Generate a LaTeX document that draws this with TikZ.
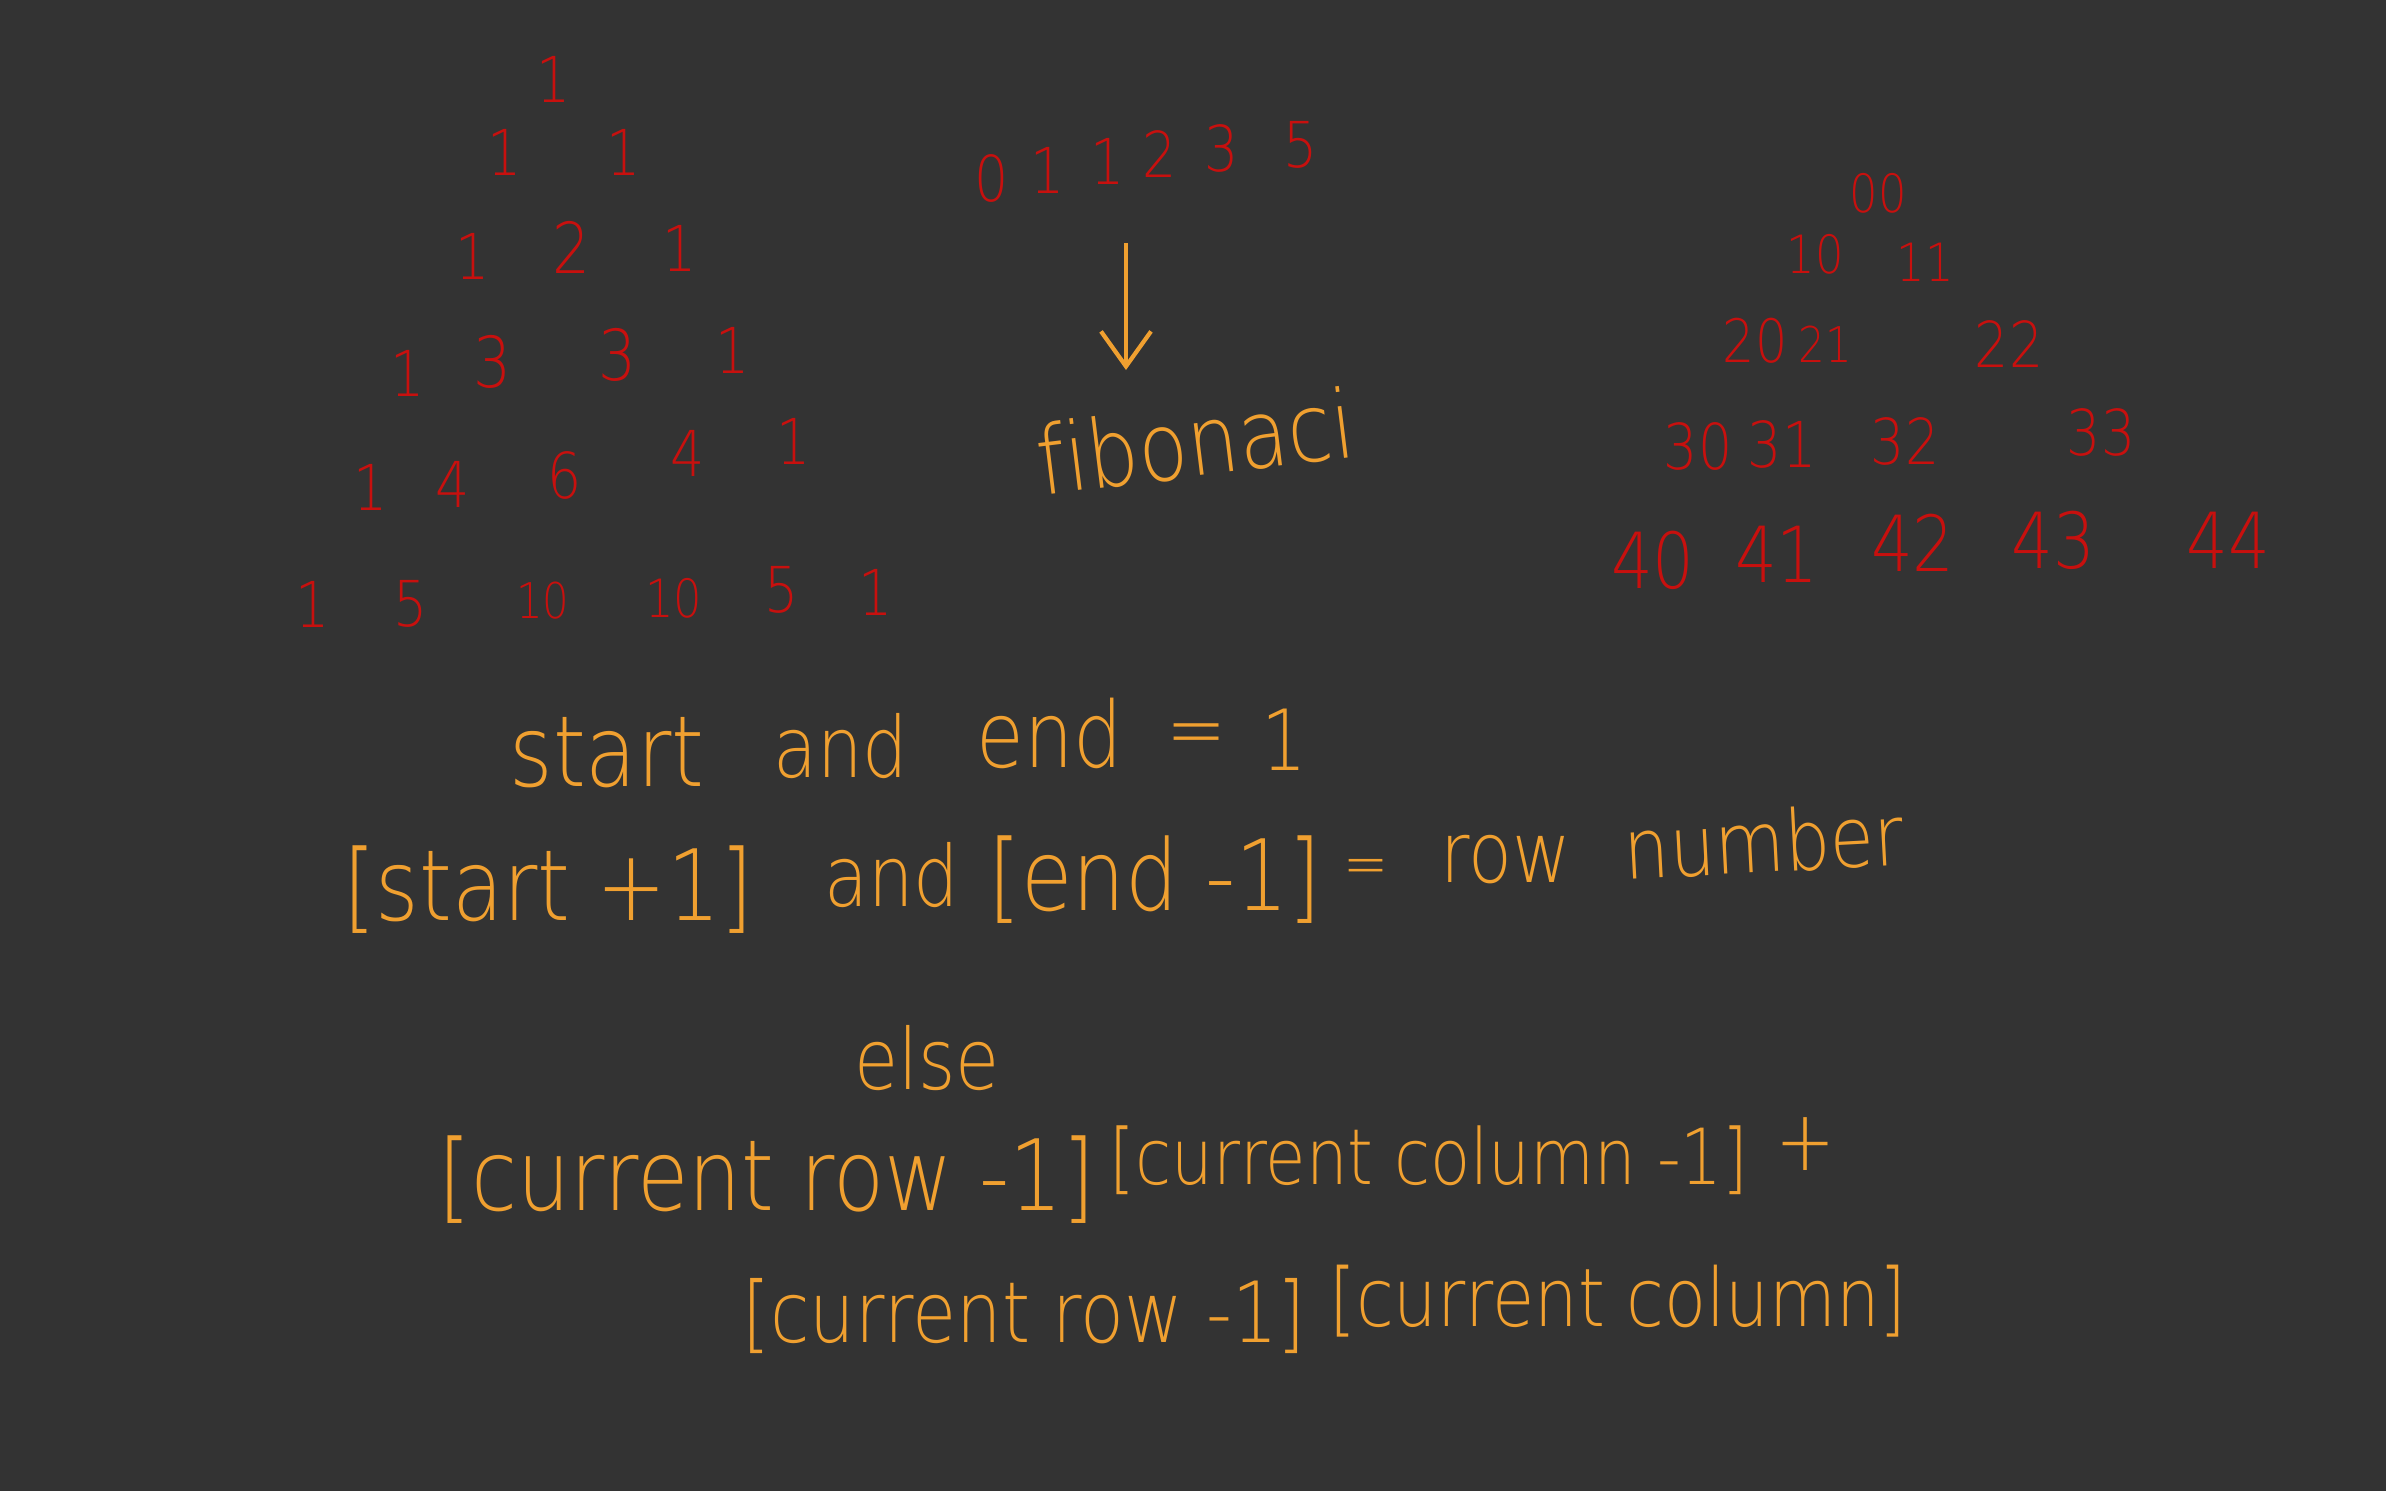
\documentclass[tikz,border=0pt]{standalone}
\usepackage{fontspec}
\newfontfamily\hand[FakeStretch=0.85,Ligatures=NoCommon]{DejaVu Sans ExtraLight}
\usetikzlibrary{arrows.meta}
\definecolor{bgc}{HTML}{333333}
\definecolor{redc}{HTML}{C8100E}
\definecolor{orc}{HTML}{F0A030}
\tikzset{
  rd/.style={text=redc,inner sep=0pt,font=\hand\fontsize{#1}{#1}\selectfont},
  rd/.default=18,
  og/.style={text=orc,inner sep=0pt,font=\hand\fontsize{#1}{#1}\selectfont},
  og/.default=24,
}
\begin{document}
\begin{tikzpicture}
\fill[bgc] (0,0) rectangle (23.86,-14.91);
\useasboundingbox (0,0) rectangle (23.86,-14.91);
% Pascal triangle
\node[rd] (p11) at (5.54,-0.79) {1};
\node[rd] (p21) at (5.05,-1.52) {1};
\node[rd] (p22) at (6.24,-1.52) {1};
\node[rd] (p31) at (4.73,-2.56) {1};
\node[rd=20] (p32) at (5.72,-2.47) {2};
\node[rd] (p33) at (6.80,-2.48) {1};
\node[rd] (p41) at (4.08,-3.73) {1};
\node[rd=20] (p42) at (4.93,-3.62) {3};
\node[rd=20] (p43) at (6.18,-3.55) {3};
\node[rd] (p44) at (7.33,-3.50) {1};
\node[rd] (p51) at (3.71,-4.87) {1};
\node[rd] (p52) at (4.53,-4.84) {4};
\node[rd] (p53) at (5.65,-4.75) {6};
\node[rd] (p54) at (6.88,-4.53) {4};
\node[rd] (p55) at (7.94,-4.41) {1};
\node[rd] (p61) at (3.13,-6.04) {1};
\node[rd] (p62) at (4.11,-6.04) {5};
\node[rd=14] (p63) at (5.43,-6.01) {10};
\node[rd=15] (p64) at (6.74,-5.98) {10};
\node[rd] (p65) at (7.82,-5.90) {5};
\node[rd] (p66) at (8.76,-5.92) {1};
% Fibonacci row
\node[rd] (f1) at (9.92,-1.78) {0};
\node[rd] (f2) at (10.48,-1.70) {1};
\node[rd] (f3) at (11.08,-1.61) {1};
\node[rd] (f4) at (11.60,-1.54) {2};
\node[rd] (f5) at (12.22,-1.48) {3};
\node[rd] (f6) at (13.01,-1.45) {5};
\coordinate (aS) at (11.26,-2.43);
\coordinate (aE) at (11.26,-3.70);
\draw[orc,line width=1.2pt,-{Straight Barb[length=3.5mm,width=5mm,line width=1.2pt]}] (aS) -- (aE);
\node[og=27,rotate=7] (fib) at (11.95,-4.41) {fibonaci};
% index triangle
\node[rd=15] (i00) at (18.78,-1.93) {00};
\node[rd=15] (i10) at (18.15,-2.54) {10};
\node[rd=15] (i11) at (19.25,-2.62) {11};
\node[rd=17] (i20) at (17.55,-3.41) {20};
\node[rd=14] (i21) at (18.25,-3.44) {21};
\node[rd=18] (i22) at (20.09,-3.44) {22};
\node[rd=18] (i30) at (16.98,-4.46) {30};
\node[rd=18] (i31) at (17.82,-4.44) {31};
\node[rd=18] (i32) at (19.05,-4.41) {32};
\node[rd=18] (i33) at (21.01,-4.32) {33};
\node[rd=22] (i40) at (16.53,-5.60) {40};
\node[rd=22] (i41) at (17.77,-5.54) {41};
\node[rd=22] (i42) at (19.13,-5.43) {42};
\node[rd=22] (i43) at (20.53,-5.40) {43};
\node[rd=22] (i44) at (22.28,-5.40) {44};
% text lines
\node[og=28] (w1) at (6.07,-7.53) {start};
\node[og] (w2) at (8.41,-7.46) {and};
\node[og=26] (w3) at (10.50,-7.33) {end};
\node[og] (w4) at (11.97,-7.41) {=};
\node[og] (w5) at (12.84,-7.40) {1};
\node[og=28] (l1) at (5.48,-8.90) {[start +1]};
\node[og] (l2) at (8.92,-8.75) {and};
\node[og=28] (l3) at (11.55,-8.80) {[end -1]};
\node[og=18] (l4) at (13.66,-8.72) {=};
\node[og] (l5) at (15.06,-8.60) {row};
\node[og,rotate=3] (l6) at (17.64,-8.41) {number};
\node[og] (el) at (9.27,-10.58) {else};
\node[og=28] (c1) at (7.67,-11.80) {[current row -1]};
\node[og=22] (c2) at (14.29,-11.60) {[current column -1]};
\node[og] (c3) at (18.06,-11.44) {+};
\node[og=24] (d1) at (10.24,-13.16) {[current row -1]};
\node[og=23] (d2) at (16.18,-13.01) {[current column]};
\end{tikzpicture}
\end{document}
